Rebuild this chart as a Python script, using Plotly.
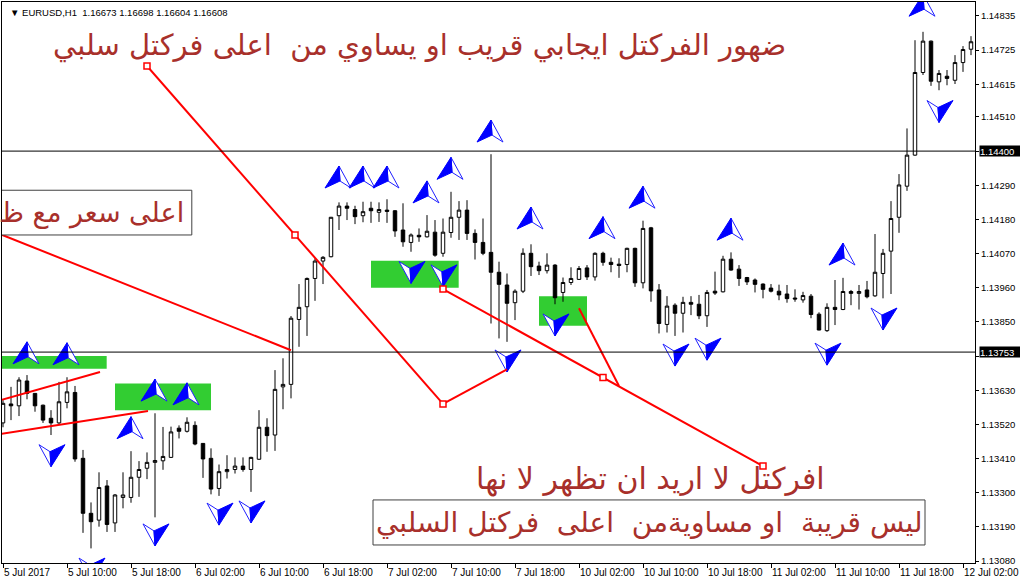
import plotly.graph_objects as go

# ---------------- data ----------------
bars = list(range(122))
opens = [1.13525,1.13586,1.13580,1.13660,1.13620,1.13582,1.13540,1.13525,1.13591,1.13623,
         1.13411,1.13234,1.13212,1.13322,1.13203,1.13285,1.13285,1.13350,1.13379,1.13398,
         1.13403,1.13414,1.13508,1.13498,1.13517,1.13459,1.13411,1.13314,1.13368,1.13375,
         1.13386,1.13375,1.13408,1.13511,1.13486,1.13641,1.13649,1.13858,1.13899,1.13990,
         1.14046,1.14060,1.14192,1.14223,1.14212,1.14192,1.14216,1.14203,1.14210,1.14208,
         1.14146,1.14106,1.14129,1.14124,1.14139,1.14071,1.14138,1.14187,1.14210,1.14135,
         1.14106,1.14074,1.14010,1.13969,1.13912,1.13949,1.14071,1.14030,1.14015,1.14033,
         1.13945,1.13977,1.13987,1.14024,1.13995,1.14071,1.14042,1.14036,1.14035,1.14087,
         1.13976,1.14153,1.13953,1.13842,1.13904,1.13878,1.13913,1.13907,1.13870,1.13949,
         1.13947,1.14052,1.14020,1.13993,1.13985,1.13972,1.13959,1.13949,1.13940,1.13927,
         1.13921,1.13933,1.13875,1.13822,1.13897,1.13890,1.13948,1.13942,1.13953,1.13934,
         1.14006,1.14078,1.14187,1.14287,1.14387,1.14653,1.14754,1.14623,1.14641,1.14628,
         1.14685,1.14728]
highs = [1.13598,1.13641,1.13672,1.13679,1.13621,1.13584,1.13566,1.13657,1.13672,1.13644,
         1.13438,1.13269,1.13366,1.13341,1.13296,1.13366,1.13434,1.13402,1.13430,1.13556,
         1.13512,1.13513,1.13517,1.13543,1.13530,1.13460,1.13443,1.13391,1.13421,1.13414,
         1.13414,1.13416,1.13566,1.13540,1.13695,1.13733,1.13869,1.13972,1.13993,1.14055,
         1.14062,1.14188,1.14235,1.14235,1.14224,1.14237,1.14237,1.14235,1.14245,1.14210,
         1.14232,1.14135,1.14151,1.14194,1.14178,1.14183,1.14269,1.14239,1.14242,1.14148,
         1.14183,1.14390,1.14044,1.14006,1.13955,1.14087,1.14100,1.14044,1.14071,1.14036,
         1.13993,1.14026,1.14030,1.14033,1.14074,1.14076,1.14057,1.14055,1.14089,1.14089,
         1.14176,1.14156,1.13972,1.13933,1.13910,1.13931,1.13933,1.13937,1.13953,1.14012,
         1.14063,1.14074,1.14033,1.13995,1.13990,1.13974,1.13972,1.13970,1.13969,1.13955,
         1.13947,1.13940,1.13881,1.13910,1.13985,1.13992,1.13953,1.13969,1.13982,1.14133,
         1.14085,1.14239,1.14326,1.14473,1.14757,1.14784,1.14756,1.14661,1.14661,1.14709,
         1.14738,1.14770]
lows = [1.13511,1.13534,1.13547,1.13601,1.13561,1.13525,1.13486,1.13522,1.13572,1.13400,
        1.13171,1.13121,1.13191,1.13174,1.13174,1.13250,1.13268,1.13287,1.13344,1.13221,
        1.13374,1.13412,1.13475,1.13494,1.13453,1.13348,1.13295,1.13290,1.13346,1.13362,
        1.13368,1.13303,1.13406,1.13432,1.13435,1.13569,1.13604,1.13770,1.13805,1.13918,
        1.13972,1.14058,1.14146,1.14178,1.14165,1.14171,1.14169,1.14172,1.14169,1.14124,
        1.14092,1.14076,1.14108,1.14122,1.14060,1.14060,1.14121,1.14114,1.14114,1.14051,
        1.14065,1.13845,1.13797,1.13786,1.13856,1.13943,1.13998,1.14001,1.14006,1.13907,
        1.13915,1.13969,1.13985,1.13985,1.13983,1.14031,1.14010,1.13992,1.14010,1.13963,
        1.13958,1.13915,1.13813,1.13816,1.13805,1.13816,1.13872,1.13859,1.13834,1.13937,
        1.13945,1.14015,1.13966,1.13969,1.13945,1.13926,1.13945,1.13920,1.13912,1.13915,
        1.13912,1.13862,1.13823,1.13818,1.13840,1.13888,1.13904,1.13890,1.13926,1.13931,
        1.13926,1.13940,1.14137,1.14272,1.14385,1.14645,1.14610,1.14596,1.14612,1.14616,
        1.14655,1.14709]
closes = [1.13588,1.13580,1.13663,1.13620,1.13580,1.13534,1.13525,1.13593,1.13625,1.13409,
          1.13234,1.13207,1.13317,1.13198,1.13293,1.13293,1.13350,1.13375,1.13398,1.13404,
          1.13417,1.13496,1.13498,1.13527,1.13457,1.13409,1.13312,1.13368,1.13375,1.13386,
          1.13375,1.13414,1.13511,1.13484,1.13633,1.13649,1.13862,1.13897,1.13990,1.14046,
          1.14058,1.14187,1.14223,1.14216,1.14189,1.14205,1.14208,1.14212,1.14206,1.14143,
          1.14108,1.14130,1.14124,1.14142,1.14065,1.14139,1.14187,1.14210,1.14135,1.14106,
          1.14071,1.14010,1.13971,1.13910,1.13949,1.14071,1.14028,1.14015,1.14033,1.13928,
          1.13977,1.13990,1.14022,1.13995,1.14071,1.14042,1.14035,1.14032,1.14087,1.13976,
          1.14151,1.13950,1.13845,1.13901,1.13878,1.13913,1.13907,1.13870,1.13945,1.13943,
          1.14052,1.14017,1.13990,1.13979,1.13971,1.13955,1.13949,1.13937,1.13925,1.13924,
          1.13935,1.13874,1.13824,1.13897,1.13890,1.13948,1.13942,1.13948,1.13931,1.14010,
          1.14071,1.14183,1.14291,1.14387,1.14653,1.14754,1.14625,1.14650,1.14634,1.14685,
          1.14727,1.14752]

x_tick_bars = [0, 8, 16, 24, 32, 40, 48, 56, 64, 72, 80, 88, 96, 104, 112, 120]
x_tick_labels = ["5 Jul 2017", "5 Jul 10:00", "5 Jul 18:00", "6 Jul 02:00", "6 Jul 10:00",
                 "6 Jul 18:00", "7 Jul 02:00", "7 Jul 10:00", "7 Jul 18:00", "10 Jul 02:00",
                 "10 Jul 10:00", "10 Jul 18:00", "11 Jul 02:00", "11 Jul 10:00",
                 "11 Jul 18:00", "12 Jul 02:00"]
y_tick_values = [1.14835, 1.14725, 1.14615, 1.14510, 1.14400, 1.14290, 1.14180, 1.14070,
                 1.13960, 1.13850, 1.13740, 1.13630, 1.13520, 1.13410, 1.13300, 1.13190,
                 1.13080]
level_prices = [1.14400, 1.13753]

# fractal arrows: bar index and price at arrow tip
up_bars = [3, 8, 16, 19, 23, 42, 45, 48, 53, 56, 61, 66, 75, 80, 91, 105, 115]
up_tips = [1.13786, 1.13783, 1.13545, 1.13666, 1.13654, 1.14352, 1.14352, 1.14352, 1.14304,
           1.14380, 1.14500, 1.14220, 1.14189, 1.14287, 1.14184, 1.14104, 1.14905]
down_bars = [6, 11, 19, 27, 31, 51, 55, 63, 69, 84, 88, 103, 110, 117]
down_tips = [1.13384, 1.13019, 1.13129, 1.13196, 1.13203, 1.13974, 1.13963, 1.13689, 1.13805,
             1.13708, 1.13727, 1.13711, 1.13824, 1.14492]

# trend lines: (bar, price) end points
trend_selected = [[(18, 1.14674), (55, 1.13586)], [(55, 1.13956), (95, 1.13386)]]
trend_plain = [[(55, 1.13586), (63, 1.13697)], [(-0.375, 1.14133), (36, 1.13759)],
               [(72, 1.13894), (77, 1.13644)], [(-0.375, 1.13598), (12.125, 1.13689)],
               [(-0.375, 1.13489), (18.125, 1.13563)]]

# green zones: bar from, bar to, price low, price high
zones = [(-0.5, 12.96, 1.13699, 1.13740), (14.0, 26.0, 1.13566, 1.13652),
         (46.0, 56.96, 1.13960, 1.14047), (67.0, 73.0, 1.13838, 1.13933)]

# ---------------- layout constants ----------------
W, H = 1020, 585
ML, MR, MT, MB = 2, 45, 2, 22
X0, X1 = -0.125, 121.5
Y0, Y1 = 1.13074, 1.14880
bar_per_px = (X1 - X0) / (W - ML - MR)
price_per_px = (Y1 - Y0) / (H - MT - MB)

NB = "\u00a0"
ARABIC_FONT = "DejaVu Sans"
TXT_COLOR = "#A8302B"
UI_FONT = "Liberation Sans"

fig = go.Figure()

fig.add_trace(go.Candlestick(
    x=bars, open=opens, high=highs, low=lows, close=closes,
    increasing=dict(line=dict(color="black", width=1), fillcolor="white"),
    decreasing=dict(line=dict(color="black", width=1), fillcolor="black"),
    whiskerwidth=0, hoverinfo="skip", showlegend=False))

# arrows
def arrow_polys(bx, tip, up):
    if up:
        solid = [(0, 0), (-14, 22), (1, 15)]
        light = [(0, 0), (1, 15), (12, 22)]
    else:
        solid = [(0, 0), (14, -22), (-1, -15)]
        light = [(0, 0), (-1, -15), (-12, -22)]
    conv = lambda pts: ([bx + dx * bar_per_px for dx, dy in pts],
                        [tip - dy * price_per_px for dx, dy in pts])
    return conv(solid), conv(light)

sx, sy, lx, ly = [], [], [], []
for b, t in zip(up_bars, up_tips):
    (a, c), (d, e) = arrow_polys(b, t, True)
    sx += a + [a[0], None]; sy += c + [c[0], None]
    lx += d + [d[0], None]; ly += e + [e[0], None]
for b, t in zip(down_bars, down_tips):
    (a, c), (d, e) = arrow_polys(b, t, False)
    sx += a + [a[0], None]; sy += c + [c[0], None]
    lx += d + [d[0], None]; ly += e + [e[0], None]

fig.add_trace(go.Scatter(x=lx, y=ly, mode="lines", fill="toself", fillcolor="white",
                         line=dict(color="#2020FF", width=1), hoverinfo="skip",
                         showlegend=False))
fig.add_trace(go.Scatter(x=sx, y=sy, mode="lines", fill="toself", fillcolor="#0000FF",
                         line=dict(color="#0000FF", width=1), hoverinfo="skip",
                         showlegend=False))

# trend lines
for seg in trend_plain + trend_selected:
    fig.add_trace(go.Scatter(x=[p[0] for p in seg], y=[p[1] for p in seg], mode="lines",
                             line=dict(color="#FF0000", width=2), hoverinfo="skip",
                             showlegend=False))
mx, my = [], []
for (a, b) in trend_selected:
    mx += [a[0], (a[0] + b[0]) / 2, b[0]]
    my += [a[1], (a[1] + b[1]) / 2, b[1]]
fig.add_trace(go.Scatter(x=mx, y=my, mode="markers",
                         marker=dict(symbol="square", size=6, color="white",
                                     line=dict(color="#FF0000", width=1.5)),
                         hoverinfo="skip", showlegend=False))

shapes = []
for x0, x1, y0, y1 in zones:
    shapes.append(dict(type="rect", xref="x", yref="y", x0=x0, x1=x1, y0=y0, y1=y1,
                       fillcolor="#32CD32", line=dict(width=0), layer="below"))
for lv in level_prices:
    shapes.append(dict(type="line", xref="paper", yref="y", x0=0, x1=1, y0=lv, y1=lv,
                       line=dict(color="black", width=1)))
# text boxes
shapes.append(dict(type="rect", xref="x", yref="y", x0=-1, x1=23.6, y0=1.14130, y1=1.14274,
                   fillcolor="white", line=dict(color="#404040", width=1), layer="above"))
shapes.append(dict(type="rect", xref="x", yref="y", x0=46.25, x1=115.25, y0=1.13132, y1=1.13277,
                   fillcolor="white", line=dict(color="#404040", width=1), layer="above"))

annotations = []
annotations.append(dict(xref="x", yref="y", x=52.1, y=1.14741, showarrow=False,
                        text="ضهور الفركتل ايجابي قريب او يساوي من" + NB + NB + "اعلى فركتل سلبي",
                        font=dict(family=ARABIC_FONT, size=29, color=TXT_COLOR)))
annotations.append(dict(xref="x", yref="y", x=22.9, y=1.14202, xanchor="right", showarrow=False,
                        text="اعلى سعر مع ظ",
                        font=dict(family=ARABIC_FONT, size=27, color=TXT_COLOR)))
annotations.append(dict(xref="x", yref="y", x=80.9, y=1.13344, showarrow=False,
                        text="افركتل لا اريد ان تظهر لا نها",
                        font=dict(family=ARABIC_FONT, size=30, color=TXT_COLOR)))
annotations.append(dict(xref="x", yref="y", x=80.75, y=1.13206, showarrow=False,
                        text="ليس قريبة" + NB + NB + "او مساويةمن" + NB + NB + "اعلى" + NB + NB + "فركتل السلبي",
                        font=dict(family=ARABIC_FONT, size=28, color=TXT_COLOR)))
annotations.append(dict(xref="paper", yref="paper", x=0, y=1, xanchor="left", yanchor="top",
                        xshift=6, yshift=-3, showarrow=False,
                        text="▼" + NB + "EURUSD,H1" + NB + NB + "1.16673 1.16698 1.16604 1.16608",
                        font=dict(family=UI_FONT, size=9.5, color="black")))
for b, lab in zip(x_tick_bars, x_tick_labels):
    annotations.append(dict(xref="x", yref="paper", x=b, y=0, xanchor="left", yanchor="top",
                            xshift=-1, yshift=-2, showarrow=False, text=lab,
                            font=dict(family=UI_FONT, size=10, color="black")))
for lv in level_prices:
    annotations.append(dict(xref="paper", yref="y", x=1, y=lv, xanchor="left", yanchor="middle",
                            xshift=4, showarrow=False, text=f"{lv:.5f}", bgcolor="black",
                            width=41, height=10, align="left", borderpad=0,
                            font=dict(family=UI_FONT, size=9.5, color="white")))

# tick labels hidden behind the level price boxes
y_tick_text = ["" if any(abs(v - lv) < 0.0002 for lv in level_prices) else f"{v:.5f}"
               for v in y_tick_values]

fig.update_layout(
    width=W, height=H, margin=dict(l=ML, r=MR, t=MT, b=MB, pad=0),
    paper_bgcolor="white", plot_bgcolor="white", showlegend=False,
    shapes=shapes, annotations=annotations, boxgap=0.38,
    xaxis=dict(range=[X0, X1], showgrid=False, zeroline=False, showline=True, mirror=True,
               linecolor="black", linewidth=1, ticks="outside", tickvals=x_tick_bars,
               ticklen=4, tickcolor="black", showticklabels=False,
               rangeslider=dict(visible=False), fixedrange=True),
    yaxis=dict(range=[Y0, Y1], side="right", showgrid=False, zeroline=False, showline=True,
               mirror=True, linecolor="black", linewidth=1, ticks="outside",
               tickvals=y_tick_values, ticktext=y_tick_text,
               ticklen=3, tickcolor="black",
               tickfont=dict(family=UI_FONT, size=9.5, color="black"), fixedrange=True),
)

fig.write_html("out.html", config={"displayModeBar": False},
               post_script="document.body.style.margin='0';document.body.style.padding='0';"
                           "document.body.style.overflow='hidden';")
